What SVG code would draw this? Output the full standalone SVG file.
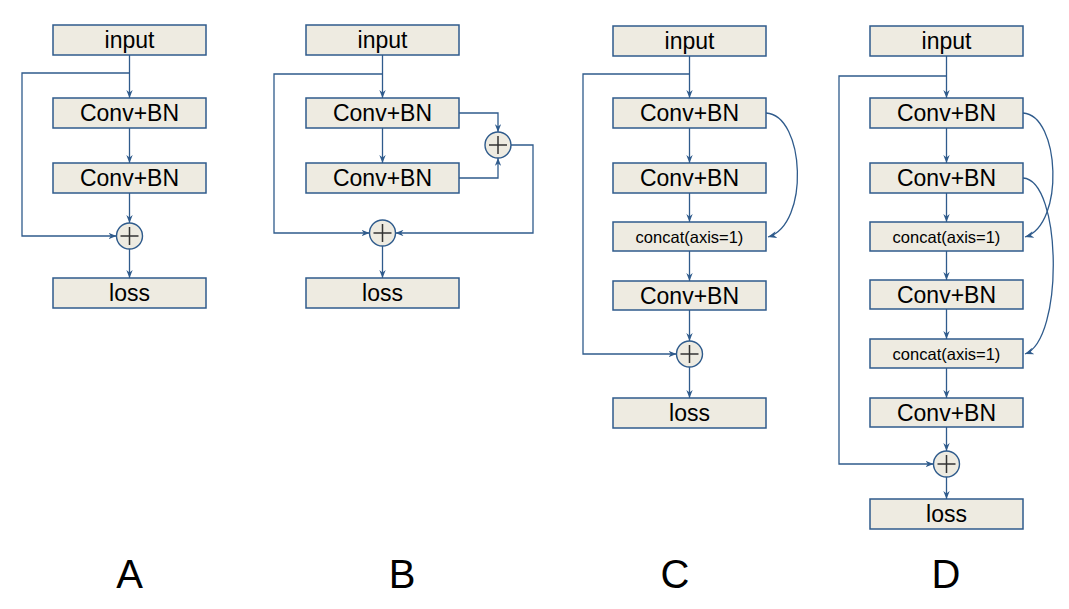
<svg xmlns="http://www.w3.org/2000/svg" width="1069" height="609" viewBox="0 0 1069 609">
<defs>
<style>
.box{fill:#EEEBE1;stroke:#2F5B8C;stroke-width:1.5}
.t{font-family:"Liberation Sans",Arial,sans-serif;font-size:23px;fill:#000;text-anchor:middle}
.s{font-family:"Liberation Sans",Arial,sans-serif;font-size:16.5px;fill:#000;text-anchor:middle}
.lab{font-family:"Liberation Sans",Arial,sans-serif;font-size:40px;fill:#000;text-anchor:middle}
.ln{fill:none;stroke:#2F5B8C;stroke-width:1.3}
.pc{fill:#EEEBE1;stroke:#2F5B8C;stroke-width:1.4}
.px{stroke:#333;stroke-width:1.5}
</style>
<marker id="ah" viewBox="0 0 10 8" refX="10" refY="4" markerWidth="8" markerHeight="6.5" markerUnits="userSpaceOnUse" orient="auto">
<path d="M0,0 L10,4 L0,8 L3,4 z" fill="#2F5B8C"/>
</marker>
<marker id="ah2" viewBox="0 0 10 8" refX="10" refY="4" markerWidth="9" markerHeight="7" markerUnits="userSpaceOnUse" orient="auto">
<path d="M0,0 L10,4 L0,8 L3,4 z" fill="#2F5B8C"/>
</marker>
</defs>
<rect width="1069" height="609" fill="#fff"/>

<g id="connectors">
<!-- A -->
<path class="ln" d="M129.5,55 V98" marker-end="url(#ah)"/>
<path class="ln" d="M129.5,73 H22 V236 H116.5" marker-end="url(#ah)"/>
<path class="ln" d="M129.5,128 V163" marker-end="url(#ah)"/>
<path class="ln" d="M129.5,193 V223" marker-end="url(#ah)"/>
<path class="ln" d="M129.5,249 V278" marker-end="url(#ah)"/>
<!-- B -->
<path class="ln" d="M382.5,55 V98" marker-end="url(#ah)"/>
<path class="ln" d="M382.5,74 H274 V233 H369.5" marker-end="url(#ah)"/>
<path class="ln" d="M382.5,128 V163" marker-end="url(#ah)"/>
<path class="ln" d="M459,113 H498 V132" marker-end="url(#ah)"/>
<path class="ln" d="M459,178 H498 V158" marker-end="url(#ah)"/>
<path class="ln" d="M511,145 H533 V233 H395.5" marker-end="url(#ah)"/>
<path class="ln" d="M382.5,246 V278" marker-end="url(#ah)"/>
<!-- C -->
<path class="ln" d="M689.5,56 V98" marker-end="url(#ah)"/>
<path class="ln" d="M689.5,74 H583 V354 H676.5" marker-end="url(#ah)"/>
<path class="ln" d="M689.5,128 V163" marker-end="url(#ah)"/>
<path class="ln" d="M689.5,193 V222" marker-end="url(#ah)"/>
<path class="ln" d="M689.5,251 V281" marker-end="url(#ah)"/>
<path class="ln" d="M689.5,310 V341" marker-end="url(#ah)"/>
<path class="ln" d="M689.5,367 V398" marker-end="url(#ah)"/>
<path class="ln" d="M766,113 C805,115 810,225 768,237" marker-end="url(#ah2)"/>
<!-- D -->
<path class="ln" d="M946.5,56 V98" marker-end="url(#ah)"/>
<path class="ln" d="M946.5,76 H839 V464 H933.5" marker-end="url(#ah)"/>
<path class="ln" d="M946.5,128 V163" marker-end="url(#ah)"/>
<path class="ln" d="M946.5,193 V222" marker-end="url(#ah)"/>
<path class="ln" d="M946.5,251 V280" marker-end="url(#ah)"/>
<path class="ln" d="M946.5,309 V339" marker-end="url(#ah)"/>
<path class="ln" d="M946.5,368 V398" marker-end="url(#ah)"/>
<path class="ln" d="M946.5,427 V451" marker-end="url(#ah)"/>
<path class="ln" d="M946.5,477 V499" marker-end="url(#ah)"/>
<path class="ln" d="M1023,113 C1060,115 1065,225 1025,237" marker-end="url(#ah2)"/>
<path class="ln" d="M1023,178 C1062,180 1064,340 1025,354" marker-end="url(#ah2)"/>
</g>

<!-- Panel A -->
<g id="A-input"><rect class="box" x="53" y="25" width="153" height="30"/><text class="t" x="129.5" y="48">input</text></g>
<g id="A-conv1"><rect class="box" x="53" y="98" width="153" height="30"/><text class="t" x="129.5" y="121">Conv+BN</text></g>
<g id="A-conv2"><rect class="box" x="53" y="163" width="153" height="30"/><text class="t" x="129.5" y="186">Conv+BN</text></g>
<g id="A-add"><circle class="pc" cx="129.5" cy="236" r="13"/><path class="px" d="M120.5,236 H138.5 M129.5,227 V245"/></g>
<g id="A-loss"><rect class="box" x="53" y="278" width="153" height="30"/><text class="t" x="129.5" y="301">loss</text></g>

<!-- Panel B -->
<g id="B-input"><rect class="box" x="306" y="25" width="153" height="30"/><text class="t" x="382.5" y="48">input</text></g>
<g id="B-conv1"><rect class="box" x="306" y="98" width="153" height="30"/><text class="t" x="382.5" y="121">Conv+BN</text></g>
<g id="B-conv2"><rect class="box" x="306" y="163" width="153" height="30"/><text class="t" x="382.5" y="186">Conv+BN</text></g>
<g id="B-add1"><circle class="pc" cx="498" cy="145" r="13"/><path class="px" d="M489,145 H507 M498,136 V154"/></g>
<g id="B-add2"><circle class="pc" cx="382.5" cy="233" r="13"/><path class="px" d="M373.5,233 H391.5 M382.5,224 V242"/></g>
<g id="B-loss"><rect class="box" x="306" y="278" width="153" height="30"/><text class="t" x="382.5" y="301">loss</text></g>

<!-- Panel C -->
<g id="C-input"><rect class="box" x="613" y="26" width="153" height="30"/><text class="t" x="689.5" y="49">input</text></g>
<g id="C-conv1"><rect class="box" x="613" y="98" width="153" height="30"/><text class="t" x="689.5" y="121">Conv+BN</text></g>
<g id="C-conv2"><rect class="box" x="613" y="163" width="153" height="30"/><text class="t" x="689.5" y="186">Conv+BN</text></g>
<g id="C-concat"><rect class="box" x="613" y="222" width="153" height="29"/><text class="s" x="689.5" y="242.5">concat(axis=1)</text></g>
<g id="C-conv3"><rect class="box" x="613" y="281" width="153" height="29"/><text class="t" x="689.5" y="303.5">Conv+BN</text></g>
<g id="C-add"><circle class="pc" cx="689.5" cy="354" r="13"/><path class="px" d="M680.5,354 H698.5 M689.5,345 V363"/></g>
<g id="C-loss"><rect class="box" x="613" y="398" width="153" height="30"/><text class="t" x="689.5" y="421">loss</text></g>

<!-- Panel D -->
<g id="D-input"><rect class="box" x="870" y="26" width="153" height="30"/><text class="t" x="946.5" y="49">input</text></g>
<g id="D-conv1"><rect class="box" x="870" y="98" width="153" height="30"/><text class="t" x="946.5" y="121">Conv+BN</text></g>
<g id="D-conv2"><rect class="box" x="870" y="163" width="153" height="30"/><text class="t" x="946.5" y="186">Conv+BN</text></g>
<g id="D-concat1"><rect class="box" x="870" y="222" width="153" height="29"/><text class="s" x="946.5" y="242.5">concat(axis=1)</text></g>
<g id="D-conv3"><rect class="box" x="870" y="280" width="153" height="29"/><text class="t" x="946.5" y="302.5">Conv+BN</text></g>
<g id="D-concat2"><rect class="box" x="870" y="339" width="153" height="29"/><text class="s" x="946.5" y="359.5">concat(axis=1)</text></g>
<g id="D-conv4"><rect class="box" x="870" y="398" width="153" height="29"/><text class="t" x="946.5" y="420.5">Conv+BN</text></g>
<g id="D-add"><circle class="pc" cx="946.5" cy="464" r="13"/><path class="px" d="M937.5,464 H955.5 M946.5,455 V473"/></g>
<g id="D-loss"><rect class="box" x="870" y="499" width="153" height="30"/><text class="t" x="946.5" y="522">loss</text></g>

<g id="labels">
<text class="lab" x="129.5" y="588">A</text>
<text class="lab" x="402" y="588">B</text>
<text class="lab" x="675" y="588">C</text>
<text class="lab" x="946" y="588">D</text>
</g>
</svg>
